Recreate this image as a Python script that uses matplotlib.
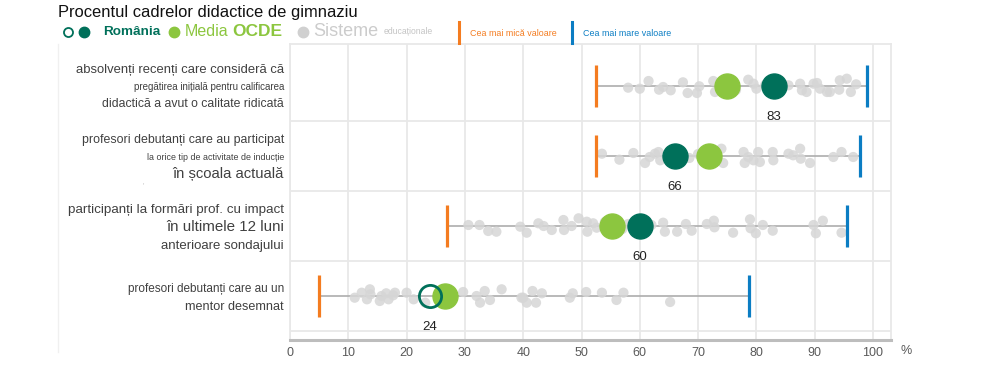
import matplotlib
matplotlib.use("Agg")
import matplotlib.pyplot as plt
from matplotlib.lines import Line2D

# ---------------- data ----------------
categories = [
    ["absolvenți recenți care consideră că",
     "pregătirea inițială pentru calificarea",
     "didactică a avut o calitate ridicată"],
    ["profesori debutanți care au participat",
     "la orice tip de activitate de inducție",
     "în școala actuală"],
    ["participanți la formări prof. cu impact",
     "în ultimele 12 luni",
     "anterioare sondajului"],
    ["profesori debutanți care au un",
     "mentor desemnat"],
]
romania = [83, 66, 60, 24]
romania_significant = [True, True, True, False]
oecd = [75.0, 71.8, 55.3, 26.6]
min_values = [52.5, 52.5, 27.0, 5.0]
max_values = [99.0, 97.8, 95.5, 78.7]

systems_row1 = [58.0, 60.0, 61.5, 63.3, 64.0, 65.3, 67.4, 68.2, 69.8, 70.2, 72.6, 72.9,
                75.5, 76.5, 78.6, 79.5, 80.0, 81.5, 84.0, 85.5, 87.5, 87.8, 88.6, 89.8,
                90.4, 90.9, 92.1, 92.6, 94.2, 94.3, 95.5, 96.2, 97.1]
jitter_row1 = [1.7, 2.7, -5, 3.7, 1, 4.3, -3.7, 7, 7, 0.3, -5, 6,
               -3, 4, -6.3, -2.3, 2.7, -1, 3, -0.7, -2.3, 4.3, 6, -2.3,
               -3, 2.7, 6, 6, 3.7, -5.7, -7.3, 6, -1.7]

systems_row2 = [53.5, 56.5, 58.9, 60.9, 61.7, 62.6, 63.2, 63.5, 65.0, 68.5, 70.0,
                74.0, 74.3, 77.8, 78.0, 78.6, 79.5, 80.3, 80.6, 82.8, 82.9, 85.5,
                86.3, 87.5, 87.6, 89.2, 93.2, 94.6, 96.6]
jitter_row2 = [-2.3, 3.7, -3, 7, 1, -2.3, -4, 4.3, -3, 2, -2,
               -7.3, 7, -4, 7, 1, 4.3, -4, 6, -4, 4.3, -2.3,
               -0.7, -7.3, 2.7, 7, 1, -4, 1]

systems_row3 = [30.6, 32.5, 34.0, 35.4, 39.5, 40.6, 42.6, 43.5, 44.9, 46.9, 47.0, 48.3,
                49.5, 50.9, 51.0, 52.0, 52.6, 54.0, 57.0, 58.0, 62.0, 64.0, 64.3, 66.4,
                67.9, 68.9, 71.5, 72.7, 72.8, 76.0, 78.9, 79.0, 79.9, 81.1, 82.8, 89.8,
                90.2, 91.4, 94.6]
jitter_row3 = [-1, -1, 5, 5.7, 0.7, 6.7, -2.7, 0, 4, -6, 4, 0,
               -7.7, -4.3, 5.7, -2.7, 1.7, -4, 3, -2, -1, -3.3, 5.7, 5.7,
               -2, 4.7, -2, -5.3, 1.3, 6.7, -6.7, 2.3, 7.3, -1, 4.7, -1,
               7.3, -5.3, 6.7]

systems_row4 = [11.1, 12.3, 13.2, 13.7, 13.8, 15.4, 15.7, 16.5, 16.9, 17.7, 18.0, 20.0,
                21.2, 23.2, 29.7, 32.0, 32.6, 33.4, 34.3, 36.3, 39.7, 40.0, 40.6, 41.6,
                42.2, 43.2, 48.0, 48.5, 50.8, 53.5, 56.0, 57.2, 65.2]
jitter_row4 = [1.7, -3.3, 3.3, -6.7, -1.7, 5, 0, -2.7, 3.3, -0.7, -3.3, -3.3,
               3.3, 6.7, -4, 0, 6.7, -5, 4, -6.7, 1.7, 1.7, 6.7, -5,
               6.7, -2.7, 1.7, -2.7, -4, -3.3, 4, -3.3, 6]

systems = [systems_row1, systems_row2, systems_row3, systems_row4]
jitters = [jitter_row1, jitter_row2, jitter_row3, jitter_row4]

xticks = [0, 10, 20, 30, 40, 50, 60, 70, 80, 90, 100]

title = "Procentul cadrelor didactice de gimnaziu"

# ---------------- style ----------------
W, H = 993, 377
ROW_PX = 70.0
C_RO = "#00705A"
C_OECD = "#8CC63F"
C_SYS = "#D6D6D6"
C_MIN = "#F47C20"
C_MAX = "#0B7DC3"
C_GRID = "#E8E8E8"
C_TXT = "#404040"
FONT = ["Liberation Sans", "DejaVu Sans"]

# font size for each category line, and its vertical pixel position
label_sizes = [[9.4, 7.0, 8.8], [8.9, 6.4, 10.6], [9.6, 10.9, 9.5], [8.5, 9.1]]
label_line_y = [[70, 87, 104], [140, 157, 174], [210, 227, 246], [289, 307]]


def fx(px):
    return px / W


def fy(py):
    return 1 - py / H


fig = plt.figure(figsize=(W / 100, H / 100), dpi=100)
ax = fig.add_axes([fx(290), fy(340), 600.5 / W, 296 / H])
ax.set_xlim(0, 103)
ax.set_ylim(3 + 44 / ROW_PX, -42 / ROW_PX)

# grid
for t in xticks:
    ax.axvline(t, color=C_GRID, lw=1.3, zorder=0)
for yb in [0.5, 1.5, 2.5, 3.5]:
    ax.axhline(yb, color=C_GRID, lw=1.3, zorder=0)
for s in ["left", "right", "top"]:
    ax.spines[s].set_color(C_GRID)
    ax.spines[s].set_linewidth(1.3)
ax.spines["bottom"].set_color("#BDBDBD")
ax.spines["bottom"].set_linewidth(2.2)
ax.set_yticks([])
ax.set_xticks(xticks)
ax.set_xticklabels([str(t) for t in xticks], family=FONT, fontsize=9, color="#595959")
ax.tick_params(axis="x", length=0, pad=5)

for i in range(4):
    ax.plot([min_values[i], max_values[i]], [i, i], color="#ADADAD", lw=1.2, zorder=1)
    ys = [i + j / ROW_PX for j in jitters[i]]
    ax.scatter(systems[i], ys, s=54, color=C_SYS, alpha=0.85, edgecolors="none", zorder=2)
    ax.plot([min_values[i]] * 2, [i - 21 / ROW_PX, i + 21 / ROW_PX], color=C_MIN, lw=2.3,
            solid_capstyle="butt", zorder=3)
    ax.plot([max_values[i]] * 2, [i - 21 / ROW_PX, i + 21 / ROW_PX], color=C_MAX, lw=2.3,
            solid_capstyle="butt", zorder=3)
    ax.plot([oecd[i]], [i], "o", ms=18, color=C_OECD, mec=C_OECD, zorder=4)
    if romania_significant[i]:
        ax.plot([romania[i]], [i], "o", ms=18, color=C_RO, mec=C_RO, zorder=5)
    else:
        ax.plot([romania[i]], [i], "o", ms=16, mfc="none", mec=C_RO, mew=2, zorder=5)
    ax.text(romania[i], i + 31 / ROW_PX, str(romania[i]), ha="center", va="center",
            fontsize=9.5, family=FONT, color="#222222", zorder=6)

fig.text(fx(906), fy(351), "%", ha="center", va="center", fontsize=9, family=FONT, color="#595959")

# category labels
for i, lines in enumerate(categories):
    for line, size, py in zip(lines, label_sizes[i], label_line_y[i]):
        fig.text(fx(284), fy(py), line, ha="right", va="center", family=FONT, fontsize=size,
                 color=C_TXT)
fig.text(fx(143), fy(183), ",", ha="center", va="center", family=FONT, fontsize=4, color="#888888")

# faint left border of label area
fig.add_artist(Line2D([fx(58), fx(58)], [fy(44), fy(352)], color="#F0F0F0", lw=1))

# title
fig.text(fx(58), fy(13), title, ha="left", va="center", family=FONT, fontsize=11.9, color="#111111")

# legend
LY = fy(32)
fig.add_artist(Line2D([fx(68)], [LY], marker="o", ms=6.5, mfc="none", mec=C_RO, mew=1.3))
fig.add_artist(Line2D([fx(84)], [LY], marker="o", ms=7.5, color=C_RO, mec=C_RO))
fig.text(fx(103), LY, "România", ha="left", va="center", family=FONT, weight="bold", fontsize=9.7, color=C_RO)
fig.add_artist(Line2D([fx(174)], [LY], marker="o", ms=7.5, color=C_OECD, mec=C_OECD))
fig.text(fx(185), LY, "Media", ha="left", va="center", family=FONT, fontsize=11.5, color=C_OECD)
fig.text(fx(232), LY, "OCDE", ha="left", va="center", family=FONT, weight="bold", fontsize=12.5, color=C_OECD)
fig.add_artist(Line2D([fx(303)], [LY], marker="o", ms=7.5, color="#D0D0D0", mec="#D0D0D0"))
fig.text(fx(313), LY, "Sisteme", ha="left", va="center", family=FONT, fontsize=13, color="#CCCCCC")
fig.text(fx(384), LY, "educaționale", ha="left", va="center", family=FONT, fontsize=6.2, color="#C4C4C4")
fig.add_artist(Line2D([fx(459), fx(459)], [fy(22), fy(43)], color=C_MIN, lw=2.2))
fig.text(fx(470), fy(33), "Cea mai mică valoare", ha="left", va="center", family=FONT, fontsize=6.4, color=C_MIN)
fig.add_artist(Line2D([fx(572), fx(572)], [fy(22), fy(43)], color=C_MAX, lw=2.2))
fig.text(fx(583), fy(33), "Cea mai mare valoare", ha="left", va="center", family=FONT, fontsize=6.4, color=C_MAX)

fig.savefig("out.png", dpi=100)
